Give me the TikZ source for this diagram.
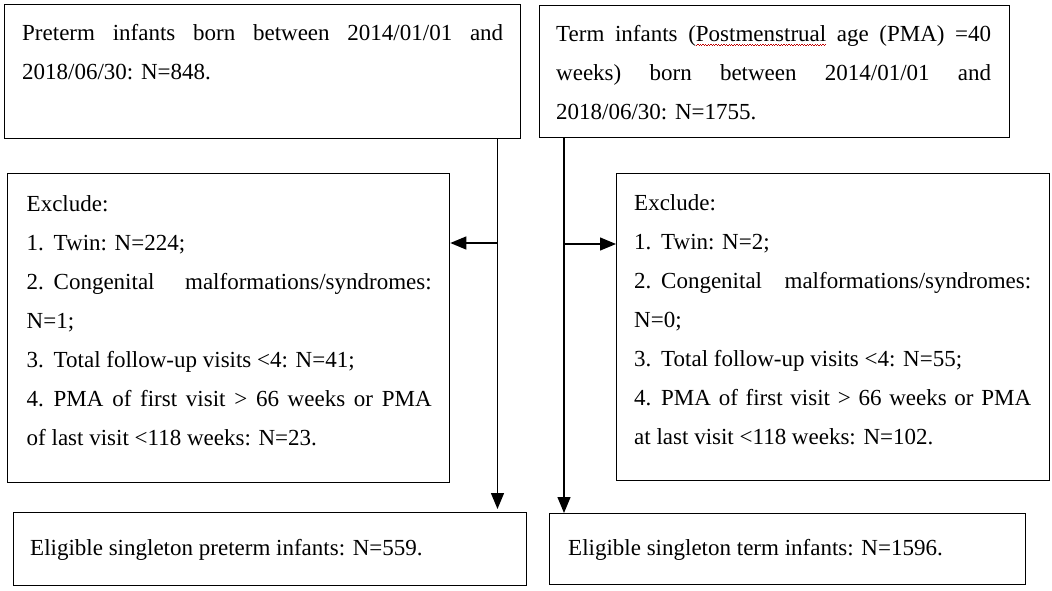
\documentclass[tikz,border=0pt]{standalone}
\usepackage{fontspec}
\setmainfont{Liberation Serif}
\usetikzlibrary{arrows.meta}
\newsavebox\sqbox
\newcommand\spellsquig[1]{\sbox\sqbox{#1}\rlap{\color{red!75!black}\hbox to \wd\sqbox{\xleaders\hbox{\rule[-4.2pt]{1.3pt}{0.7pt}\rule[-3.4pt]{1.3pt}{0.7pt}}\hfill}}\usebox\sqbox}
\newcommand\num[1]{\makebox[27pt][l]{#1}}
\tikzset{
  box/.style={draw, line width=1.3pt, inner sep=0pt, anchor=north west},
  txt/.style={inner sep=0pt, anchor=base west, align=justify, font=\fontsize{23}{39}\selectfont},
  oneline/.style={inner sep=0pt, anchor=base west, font=\fontsize{23}{39}\selectfont},
  arr/.style={line width=1.3pt, -{Triangle[length=16pt,width=13pt]}},
}
\begin{document}
\begin{tikzpicture}[x=1pt,y=-1pt]
\useasboundingbox (0,0) rectangle (1052,590);
% boxes
\node[box, minimum width=516pt, minimum height=134pt] (A) at (4,4) {};
\node[box, minimum width=470pt, minimum height=132pt] (B) at (539,5) {};
\node[box, minimum width=442pt, minimum height=309pt] (C) at (7,173) {};
\node[box, minimum width=433pt, minimum height=307pt] (D) at (616,173) {};
\node[box, minimum width=513pt, minimum height=73pt] (E) at (13,512) {};
\node[box, minimum width=476pt, minimum height=71pt] (F) at (549,513) {};
% texts
\node[txt, text width=481pt] (At) at (22,40) {Preterm infants born between 2014/01/01 and\linebreak 2018/06/30: N=848.};
\node[txt, text width=435pt] (Bt) at (556,41.5) {Term infants (\spellsquig{Postmenstrual} age (PMA) =40\linebreak weeks) born between 2014/01/01 and\linebreak 2018/06/30: N=1755.};
\node[txt, text width=405pt] (Ct) at (26.5,211) {Exclude:\par
\num{1.}Twin: N=224;\par
\num{2.}Congenital malformations/syndromes:\linebreak N=1;\par
\num{3.}Total follow-up visits <4: N=41;\par
\num{4.}PMA of first visit > 66 weeks or PMA\linebreak of last visit <118 weeks: N=23.};
\node[txt, text width=397pt] (Dt) at (634,210) {Exclude:\par
\num{1.}Twin: N=2;\par
\num{2.}Congenital malformations/syndromes:\linebreak N=0;\par
\num{3.}Total follow-up visits <4: N=55;\par
\num{4.}PMA of first visit > 66 weeks or PMA\linebreak at last visit <118 weeks: N=102.};
\node[oneline] (Et) at (30,555) {Eligible singleton preterm infants: N=559.};
\node[oneline] (Ft) at (568,555) {Eligible singleton term infants: N=1596.};
% connectors
\coordinate (lx) at (497.5,0);
\coordinate (rx) at (564,0);
\coordinate (jl) at (497.5,243);
\coordinate (jr) at (564,244);
\draw[arr, shorten >=3pt] (A.south -| lx) -- (E.north -| lx);
\draw[arr] (B.south -| rx) -- (F.north -| rx);
\draw[arr] (jl) -- (jl -| C.east);
\draw[arr] (jr) -- (jr -| D.west);
\end{tikzpicture}
\end{document}
